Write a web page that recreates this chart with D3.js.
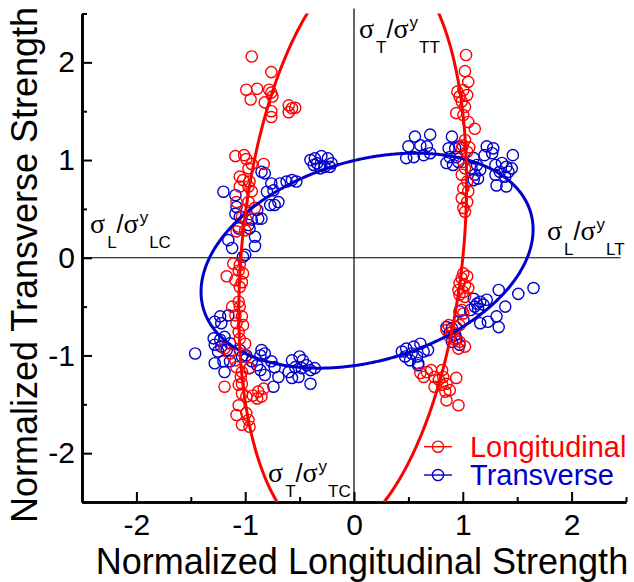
<!DOCTYPE html>
<html>
<head>
<meta charset="utf-8">
<script src="https://cdn.jsdelivr.net/npm/d3@7"></script>
<style>
body { margin: 0; background: #fff; }
text { font-family: "Liberation Sans", Arial, sans-serif; }
</style>
</head>
<body>
<script>
// measured points, [normalized longitudinal, normalized transverse]
var longitudinal = [
	[-0.94,2.06],[-0.76,1.90],[-0.99,1.72],[-0.89,1.73],[-0.95,1.62],[-0.78,1.72],[-0.76,1.69],[-0.75,1.65],
	[-0.82,1.59],[-0.76,1.50],[-0.76,1.44],[-0.60,1.56],[-0.57,1.53],[-0.54,1.535],[-0.60,1.49],
	[-1.09,1.04],[-1.01,1.05],[-0.99,1.01],[-0.94,0.96],[-0.97,0.915],[-0.83,0.96],[-1.05,0.83],
	[-1.02,0.795],[-0.96,0.78],[-0.97,0.73],[-1.05,0.73],[-0.94,0.68],[-1.08,0.57],[-0.97,0.57],[-0.91,0.51],
	[-1.0,0.49],[-1.03,0.42],[-0.99,0.39],[-1.06,0.32],[-1.08,0.27],[-1.0,0.28],
	[-1.11,-0.06],[-1.05,-0.075],[-1.06,-0.13],[-1.02,-0.16],[-1.17,-0.19],[-1.09,-0.23],[-1.03,-0.25],[-1.05,-0.30],
	[-1.06,-0.45],[-1.12,-0.50],[-1.05,-0.50],[-1.09,-0.59],[-1.03,-0.60],[-1.08,-0.67],[-1.02,-0.69],[-1.06,-0.76],
	[-1.05,-0.83],[-1.0,-0.88],[-1.19,-0.93],[-1.14,-0.98],[-1.09,-1.05],[-1.0,-1.01],[-1.08,-1.12],[-1.03,-1.17],
	[-0.96,-1.13],[-1.04,-1.22],[-1.19,-1.32],[-1.06,-1.30],[-1.03,-1.29],[-1.03,-1.39],[-0.99,-1.42],[-0.93,-1.41],
	[-0.89,-1.44],[-0.85,-1.42],[-0.83,-1.34],[-0.88,-1.37],[-1.08,-1.61],[-0.99,-1.59],[-0.97,-1.66],[-1.03,-1.71],
	[-0.96,-1.73],[-1.06,-1.51],
	[1.03,2.075],[1.02,1.91],[1.05,1.80],[0.95,1.70],[1.005,1.716],[0.97,1.65],[1.04,1.665],[0.99,1.60],
	[1.02,1.545],[0.94,1.48],[1.005,1.46],[1.05,1.39],[1.11,1.32],[1.02,1.205],[0.99,1.12],[1.04,1.085],
	[1.0,1.15],[1.06,1.13],[1.005,0.98],[1.02,0.915],[0.99,0.85],[1.04,0.78],[1.005,0.71],[1.05,0.68],
	[0.99,0.61],[1.04,0.57],[1.005,0.51],[1.02,0.47],
	[1.005,-0.16],[0.99,-0.21],[1.04,-0.19],[0.97,-0.26],[1.02,-0.28],[0.96,-0.33],[1.005,-0.35],[1.05,-0.31],
	[0.97,-0.38],[1.02,-0.40],[0.99,-0.535],[1.005,-0.57],[0.87,-0.69],[0.85,-0.74],[0.90,-0.76],[0.94,-0.71],
	[0.97,-0.69],[0.88,-0.81],[0.93,-0.84],[0.97,-0.86],[1.02,-0.91],[0.96,-0.93],
	[0.61,-1.18],[0.67,-1.17],[0.64,-1.22],[0.71,-1.15],[0.74,-1.22],[0.81,-1.15],[0.82,-1.22],[0.78,-1.25],
	[0.74,-1.32],[0.81,-1.30],[0.85,-1.29],[0.94,-1.23],[0.84,-1.37],[0.88,-1.355],[0.85,-1.46],[0.96,-1.51]
];

var transverse = [
	[-0.40,1.0],[-0.36,1.017],[-0.30,1.04],[-0.24,1.017],[-0.205,0.966],[-0.34,0.966],[-0.37,0.95],[-0.31,0.915],
	[-0.27,0.93],[-0.22,0.93],
	[-0.85,0.88],[-0.82,0.864],[-1.2,0.676],[-1.09,0.64],[-0.76,0.76],[-0.68,0.76],[-0.62,0.78],[-0.57,0.795],
	[-0.53,0.78],[-0.80,0.676],[-0.74,0.69],[-0.695,0.57],[-0.73,0.54],[-0.77,0.54],[-1.08,0.52],[-1.09,0.45],
	[-1.05,0.42],[-0.89,0.49],[-0.88,0.40],[-0.85,0.40],[-1.06,0.30],[-0.97,0.335],[-0.96,0.30],[-0.94,0.39],
	[-1.155,0.18],[-1.12,0.10],[-0.91,0.215],[-0.91,0.12],[-1.0,0.03],[-1.02,0.01],
	[-1.46,-0.98],[-1.23,-0.60],[-1.155,-0.59],[-1.28,-0.655],[-1.22,-0.67],[-1.29,-0.825],[-1.23,-0.84],[-1.19,-0.81],
	[-1.28,-0.89],[-1.22,-0.91],[-1.17,-0.945],[-1.25,-0.96],[-1.14,-0.876],[-1.28,-1.08],[-1.2,-1.06],[-1.14,-1.06],
	[-1.19,-1.17],[-1.05,-0.945],[-1.03,-1.01],[-0.99,-1.0],[-0.94,-1.06],[-0.96,-1.13],[-0.89,-1.10],[-0.86,-1.15],
	[-0.85,-0.945],[-0.82,-0.98],[-0.86,-1.0],[-0.76,-1.06],[-0.73,-1.12],[-0.695,-1.22],[-0.74,-1.32],[-0.82,-1.2],
	[-0.57,-1.05],[-0.50,-1.01],[-0.47,-1.05],[-0.54,-1.12],[-0.48,-1.13],[-0.435,-1.10],[-0.40,-1.15],[-0.60,-1.17],
	[-0.51,-1.22],[-0.57,-1.23],[-0.36,-1.13],[-0.40,-1.29],
	[0.44,-0.96],[0.48,-0.93],[0.55,-0.91],[0.61,-0.88],[0.53,-0.98],[0.47,-1.01],[0.515,-1.05],[0.58,-1.01],
	[0.59,-1.08],[0.64,-0.96],[0.68,-0.945],[0.59,-1.10],
	[1.65,-0.31],[1.51,-0.37],[1.33,-0.33],[1.39,-0.50],[1.31,-0.60],[1.23,-0.655],[1.33,-0.71],[1.16,-0.67],
	[1.22,-0.43],[1.10,-0.42],[1.13,-0.47],[1.16,-0.45],[1.11,-0.50],[1.14,-0.52],[1.07,-0.535],[1.19,-0.48],
	[0.85,-0.71],[0.90,-0.72],[0.88,-0.77],[0.93,-0.79],[0.94,-0.825],[0.90,-0.86],[0.97,-0.89],[0.97,-0.55],[1.005,-0.64],
	[0.56,1.24],[0.70,1.26],[0.50,1.14],[0.61,1.15],[0.67,1.14],[0.55,1.03],[0.64,1.05],[0.70,1.07],[0.48,1.02],
	[0.90,1.24],[0.87,1.12],[0.93,1.12],[0.97,1.14],[0.88,1.03],[0.94,1.03],[0.85,0.97],[0.91,0.95],[0.96,0.98],
	[1.10,1.02],[1.13,0.95],[1.08,0.915],[1.16,0.90],[1.11,0.85],[1.14,0.81],[1.10,0.795],
	[1.22,1.14],[1.28,1.12],[1.27,1.07],[1.20,1.05],[1.46,1.05],
	[1.30,0.95],[1.36,0.97],[1.40,0.93],[1.34,0.88],[1.42,0.88],[1.45,0.915],[1.30,0.85],[1.39,0.83],[1.31,0.74],[1.40,0.73]
];

// failure envelopes: a*x^2 + b*x*y + c*y^2 + d*x + e*y = 1
var longCriterion = [0.9615, -0.15, 0.1192, 0.0385, -0.027];
var transCriterion = [0.473, -0.38, 0.91, -0.125, 0.10];

var majorTicks = [-2, -1, 0, 1, 2];
var minorTicks = [-2.5, -1.5, -0.5, 0.5, 1.5, 2.5];

var seriesNames = ['Longitudinal', 'Transverse'];
var seriesColors = ['#ff0000', '#0000cc'];

// strength labels: position (data units) + subscripts
var strengthLabels = [
	{x: 0.046, y: 2.25, s1: 'T', s2: 'TT'},
	{x: -2.426, y: 0.252, s1: 'L', s2: 'LC'},
	{x: 1.774, y: 0.181, s1: 'L', s2: 'LT'},
	{x: -0.79, y: -2.296, s1: 'T', s2: 'TC'}
];

var margin = {top: 13.5, right: 8, bottom: 80, left: 82};
var width = 634 - margin.left - margin.right;
var height = 582 - margin.top - margin.bottom;

var svg = d3.select('body')
	.append('svg')
	.attr('width', 634)
	.attr('height', 582)
.append('g')
	.attr('transform', 'translate(' + margin.left + ',' + margin.top + ')');

var xScale = d3.scaleLinear().domain([-2.5, 2.5]).range([0, width]);
var yScale = d3.scaleLinear().domain([-2.5, 2.5]).range([height, 0]);

svg.append('clipPath').attr('id', 'plotclip')
	.append('rect').attr('width', width).attr('height', height);

// cross hair through origin
svg.append('line')
	.attr('x1', xScale(0)).attr('x2', xScale(0))
	.attr('y1', yScale(2.55)).attr('y2', height)
	.attr('stroke', 'black').attr('stroke-width', 1.2);
svg.append('line')
	.attr('x1', 0).attr('x2', xScale(2.45))
	.attr('y1', yScale(0)).attr('y2', yScale(0))
	.attr('stroke', 'black').attr('stroke-width', 1.2);

// axes, ticks pointing inward
function styleAxis(g) {
	g.select('.domain').attr('stroke-width', 2.6);
	g.selectAll('.tick line').attr('stroke-width', 2);
	g.selectAll('.tick text').attr('font-size', 30).attr('font-family', '"Liberation Sans", Arial, sans-serif');
}

svg.append('g')
	.attr('transform', 'translate(0,' + height + ')')
	.call(d3.axisBottom(xScale).tickValues(minorTicks).tickSizeInner(-5).tickSizeOuter(0).tickFormat(''))
	.call(styleAxis);
svg.append('g')
	.attr('transform', 'translate(0,' + height + ')')
	.call(d3.axisBottom(xScale).tickValues(majorTicks).tickSizeInner(-10).tickSizeOuter(0).tickPadding(12)
		.tickFormat(function(d){ return String(d); }))
	.call(styleAxis);

svg.append('g')
	.call(d3.axisLeft(yScale).tickValues(minorTicks).tickSizeInner(-5).tickSizeOuter(0).tickFormat(''))
	.call(styleAxis);
svg.append('g')
	.call(d3.axisLeft(yScale).tickValues(majorTicks).tickSizeInner(-10).tickSizeOuter(0).tickPadding(7)
		.tickFormat(function(d){ return String(d); }))
	.call(styleAxis);

// data circles
var plot = svg.append('g').attr('clip-path', 'url(#plotclip)');

[transverse, longitudinal].forEach(function(pts, k){
	var col = k == 0 ? seriesColors[1] : seriesColors[0];
	plot.append('g').selectAll('circle')
		.data(pts)
		.enter().append('circle')
		.attr('cx', function(d){ return xScale(d[0]); })
		.attr('cy', function(d){ return yScale(d[1]); })
		.attr('r', 5.6)
		.attr('fill', 'none')
		.attr('stroke', col)
		.attr('stroke-width', 1.4);
});

// envelope as polar curve around the origin
function envelope(cf) {
	var out = [];
	for (var i = 0; i <= 720; i++) {
		var t = i / 720 * 2 * Math.PI;
		var cs = Math.cos(t), sn = Math.sin(t);
		var A = cf[0]*cs*cs + cf[1]*cs*sn + cf[2]*sn*sn;
		var B = cf[3]*cs + cf[4]*sn;
		var r = (-B + Math.sqrt(B*B + 4*A)) / (2*A);
		out.push([r*cs, r*sn]);
	}
	return out;
}

var line = d3.line()
	.x(function(d){ return xScale(d[0]); })
	.y(function(d){ return yScale(d[1]); });

plot.append('path')
	.attr('d', line(envelope(transCriterion)))
	.attr('fill', 'none').attr('stroke', seriesColors[1]).attr('stroke-width', 3);
plot.append('path')
	.attr('d', line(envelope(longCriterion)))
	.attr('fill', 'none').attr('stroke', seriesColors[0]).attr('stroke-width', 3);

// strength labels
strengthLabels.forEach(function(l){
	var t = svg.append('text')
		.attr('x', xScale(l.x))
		.attr('y', yScale(l.y))
		.attr('fill', 'black');
	t.append('tspan').attr('font-family', '"Liberation Serif", serif').attr('font-size', 28).text('σ');
	t.append('tspan').attr('font-size', 17).attr('dx', 2).attr('dy', 15).text(l.s1);
	t.append('tspan').attr('font-size', 25).attr('dy', -15).text('/');
	t.append('tspan').attr('font-family', '"Liberation Serif", serif').attr('font-size', 28).text('σ');
	t.append('tspan').attr('font-size', 17).attr('dx', 1).attr('dy', -10).text('y');
	t.append('tspan').attr('font-size', 17).attr('dx', 1).attr('dy', 25).text(l.s2);
});

// legend
var legendX = 0.772;
var legendY = [-1.934, -2.224];
seriesNames.forEach(function(name, i){
	var g = svg.append('g')
		.attr('transform', 'translate(' + xScale(legendX) + ',' + yScale(legendY[i]) + ')');
	g.append('line').attr('x1', -14).attr('x2', 14)
		.attr('stroke', seriesColors[i]).attr('stroke-width', 1.4);
	g.append('circle').attr('r', 5.6).attr('fill', 'none')
		.attr('stroke', seriesColors[i]).attr('stroke-width', 1.4);
	g.append('text').attr('x', 32).attr('y', 10)
		.attr('font-size', 29).attr('fill', seriesColors[i])
		.text(name);
});

// axis titles
svg.append('text')
	.attr('x', 362 - margin.left)
	.attr('y', 574 - margin.top)
	.attr('text-anchor', 'middle')
	.attr('font-size', 36)
	.text('Normalized Longitudinal Strength');

svg.append('text')
	.attr('transform', 'translate(' + (37 - margin.left) + ',' + (265 - margin.top) + ') rotate(-90)')
	.attr('text-anchor', 'middle')
	.attr('font-size', 36)
	.text('Normalized Transverse Strength');
</script>
</body>
</html>
